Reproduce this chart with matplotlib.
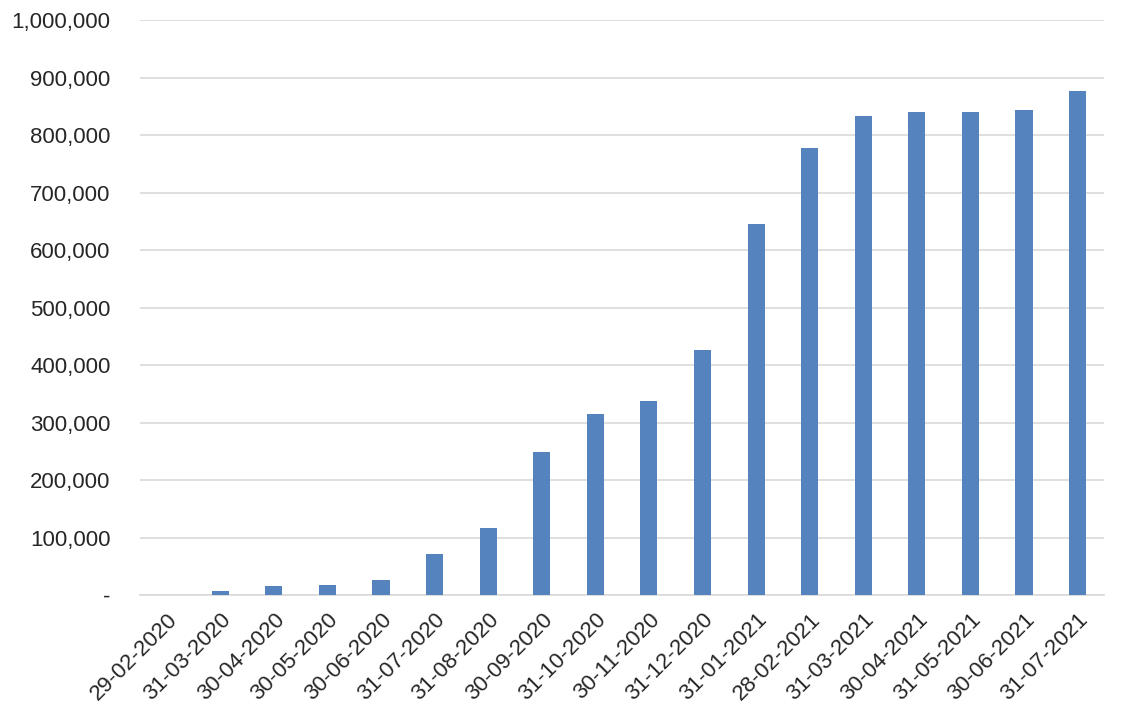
import numpy as np
import matplotlib.pyplot as plt
from matplotlib.ticker import FuncFormatter

plt.rcParams['font.family'] = ['Liberation Sans', 'DejaVu Sans']

# Month-end dates and cumulative totals
dates = ['29-02-2020', '31-03-2020', '30-04-2020', '30-05-2020', '30-06-2020',
         '31-07-2020', '31-08-2020', '30-09-2020', '31-10-2020', '30-11-2020',
         '31-12-2020', '31-01-2021', '28-02-2021', '31-03-2021', '30-04-2021',
         '31-05-2021', '30-06-2021', '31-07-2021']
values = [500, 6400, 16000, 17400, 26000,
          72000, 117000, 249000, 315000, 338000,
          427000, 646000, 778000, 834000, 840000,
          841000, 843000, 876000]

fig = plt.figure(figsize=(11.27, 7.17), dpi=100)
ax = fig.add_axes([0.124, 0.170, 0.856, 0.802])

x = np.arange(len(dates))
ax.bar(x, values, width=0.32, color='#5583BE', zorder=3)

ax.set_xlim(-0.5, len(dates) - 0.5)
ax.set_ylim(0, 1000000)
ax.set_yticks(np.arange(0, 1000001, 100000))
ax.yaxis.set_major_formatter(FuncFormatter(lambda v, p: '-' if v == 0 else '{:,.0f}'.format(v)))
ax.grid(axis='y', color='#D9D9D9', linewidth=1.2, zorder=0)

ax.set_xticks(x)
ax.set_xticklabels(dates, rotation=45, ha='right', rotation_mode='anchor')

for s in ['top', 'right', 'left']:
    ax.spines[s].set_visible(False)
ax.spines['bottom'].set_color('#D9D9D9')
ax.spines['bottom'].set_linewidth(1.2)
ax.tick_params(axis='both', length=0, labelsize=16, colors='#262626')
ax.tick_params(axis='y', pad=21)
ax.tick_params(axis='x', pad=10)

fig.savefig('out.png', dpi=100)
